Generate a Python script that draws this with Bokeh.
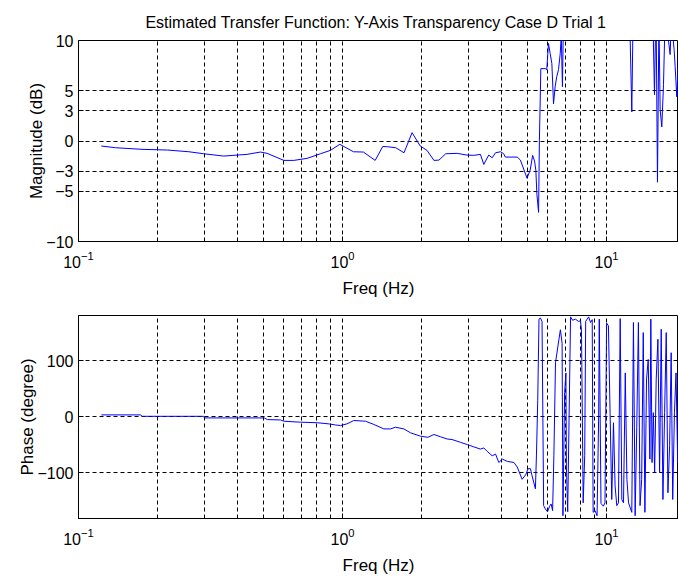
from bokeh.plotting import figure
from bokeh.layouts import column
from bokeh.models import Range1d, FixedTicker
from bokeh.embed import file_html
from bokeh.resources import INLINE

# ---------------- data ----------------
TITLE = "Estimated Transfer Function:  Y-Axis Transparency Case D Trial 1"

mag_freq = [0.122, 0.138, 0.174, 0.217, 0.262, 0.298, 0.355, 0.399, 0.435, 0.489,
            0.518, 0.600, 0.654, 0.734, 0.825, 0.90, 0.977, 1.10, 1.20, 1.33,
            1.42, 1.48, 1.59, 1.71, 1.835, 1.97, 2.09, 2.22, 2.32, 2.46,
            2.72, 2.96, 3.14, 3.33, 3.43, 3.58, 3.69, 3.80, 3.97, 4.08,
            4.14, 4.59, 4.72, 5.0, 5.14, 5.25, 5.34, 5.40, 5.45, 5.53,
            5.57, 5.64, 5.86, 5.94, 6.03, 6.12, 6.21, 6.30, 6.39, 6.48,
            6.58, 6.68, 6.74, 6.81, 6.87, 7.31, 7.97, 8.70, 9.49, 10.35,
            11.30, 12.2, 12.47, 12.65, 13.45, 14.42, 15.0, 15.2, 15.4, 15.6,
            15.8, 15.97, 16.2, 16.44, 16.7, 17.0, 17.42, 17.6, 18.04, 18.2,
            18.46, 18.74, 19.0]
mag_db = [-0.5, -0.67, -0.83, -0.9, -1.07, -1.27, -1.5, -1.4, -1.33, -1.1,
          -1.23, -1.93, -1.93, -1.73, -1.27, -0.93, -0.33, -1.07, -1.1, -1.93,
          -0.55, -0.57, -0.67, -1.17, 0.83, -0.5, -0.93, -1.93, -1.9, -1.27,
          -1.23, -1.4, -1.43, -1.33, -2.33, -1.4, -1.67, -1.17, -1.07, -1.27,
          -1.6, -1.6, -1.9, -3.7, -2.9, -1.43, -2.0, -2.9, -5.3, -7.1,
          0.07, 7.2, 7.2, 7.1, 9.7, 8.7, 7.7, 3.7, 5.4, 6.4,
          7.1, 8.7, 10.5, 5.4, 12.0, 14.0, 16.0, 13.0, 18.0, 15.0,
          20.0, 14.0, 2.9, 15.0, 18.0, 13.0, 12.0, 4.6, 14.0, -4.1,
          12.0, 3.1, 1.4, 5.6, 13.0, 11.0, 8.6, 12.0, 9.1, 7.4,
          4.4, 8.4, 10.0]

ph_freq = [0.122, 0.172, 0.174, 0.298, 0.300, 0.505, 0.520, 0.582, 0.600, 0.693,
           0.802, 0.887, 0.941, 0.983, 1.04, 1.104, 1.222, 1.314, 1.434, 1.52,
           1.587, 1.708, 1.81, 1.974, 2.105, 2.22, 2.35, 2.49, 2.60, 2.80,
           2.97, 3.14, 3.33, 3.43, 3.53, 3.69, 3.80, 3.91, 4.03, 4.21,
           4.46, 4.59, 4.79, 4.94, 5.05, 5.15, 5.22, 5.38, 5.43, 5.49,
           5.55, 5.62, 5.70, 5.78, 5.87, 5.98, 6.09, 6.17, 6.25, 6.32,
           6.41, 6.60, 6.69, 6.79, 6.84, 6.94, 7.02, 7.05, 7.13, 7.31,
           7.44, 7.63, 7.83, 7.97, 8.04, 8.16, 8.27, 8.34, 8.56, 8.70,
           8.83, 8.90, 9.05, 9.21, 9.34, 9.39, 9.53, 9.73, 9.87, 10.01,
           10.17, 10.32, 10.47, 10.63, 10.78, 10.94, 11.10, 11.27, 11.43, 11.60,
           11.78, 11.95, 12.12, 12.47, 12.65, 12.84, 13.02, 13.21, 13.40, 13.59,
           13.78, 13.98, 14.18, 14.39, 14.60, 14.72, 14.88, 15.05, 15.22, 15.43,
           15.66, 15.89, 16.12, 16.36, 16.60, 16.84, 17.09, 17.34, 17.58, 17.82,
           18.09, 18.34, 18.61, 18.8]
ph_deg = [3, 3, 0.5, 0.5, -2.4, -2.4, -5.4, -6, -8.3, -10,
          -11, -13, -15, -16, -13, -7, -8.3, -14, -22, -22,
          -19, -22, -29, -35, -37, -32, -36, -40, -41, -46,
          -50, -54, -58, -56, -62, -70, -67, -82, -76, -80,
          -82, -90, -112, -104, -93, -93, -105, -129, -67, 29,
          174, 176, 170, -159, -165, -170, -160, -156, -168, -70,
          96, 137, 155, 131, -177, 43, 78, -90, -170, 178,
          172, 174, 170, 171, 155, -154, -70, 170, 178, 168,
          173, -171, -168, -177, 0, 174, -155, -160, -154, 167,
          162, 5, -148, -11, -124, -159, -154, 175, -148, -154,
          78, -112, -154, -171, 168, -177, -20, 168, -159, -112,
          150, -171, 67, 102, -76, 174, -82, 7, -100, 67,
          138, -100, 156, -148, 7, 150, -136, -52, 114, -148,
          7, 78, -82, -30]

x_major = [0.1, 1, 10]
x_minor = [0.2, 0.3, 0.4, 0.5, 0.6, 0.7, 0.8, 0.9, 2, 3, 4, 5, 6, 7, 8, 9]
mag_ticks = [-10, -5, -3, 0, 3, 5, 10]
ph_ticks = [-100, 0, 100]

FONT = "Liberation Sans"
FS = "16px"
LFS = "17px"
LINE = "#0000ff"


def style(p, yticks, ylabel):
    xt = FixedTicker(ticks=x_major, minor_ticks=x_minor)
    p.xaxis.ticker = xt
    p.xgrid.ticker = xt
    p.yaxis.ticker = FixedTicker(ticks=yticks, minor_ticks=[])
    p.ygrid.ticker = FixedTicker(ticks=yticks, minor_ticks=[])
    for g in (p.xgrid, p.ygrid):
        g.grid_line_color = "black"
        g.grid_line_dash = "4 3"
        g.grid_line_width = 1
        g.grid_line_alpha = 1.0
    p.xgrid.minor_grid_line_color = "black"
    p.xgrid.minor_grid_line_dash = "4 3"
    p.xgrid.minor_grid_line_alpha = 1.0
    for ax in (p.xaxis, p.yaxis):
        ax.axis_line_color = "black"
        ax.major_tick_line_color = "black"
        ax.minor_tick_line_color = "black"
        ax.major_tick_in = 5
        ax.major_tick_out = 0
        ax.minor_tick_in = 3
        ax.minor_tick_out = 0
        ax.major_label_text_font = FONT
        ax.major_label_text_font_size = FS
        ax.major_label_text_color = "black"
        ax.axis_label_text_font = FONT
        ax.axis_label_text_font_size = LFS
        ax.axis_label_text_font_style = "normal"
        ax.axis_label_text_color = "black"
    p.yaxis.major_label_standoff = 5
    p.xaxis.major_label_standoff = 9
    p.xaxis.axis_label = "Freq (Hz)"
    p.yaxis.axis_label = ylabel
    p.xaxis.axis_label_standoff = 8
    p.yaxis.axis_label_standoff = -3
    p.outline_line_color = "black"
    p.outline_line_alpha = 1.0
    p.outline_line_width = 1
    p.background_fill_color = "white"
    p.border_fill_color = "white"


p1 = figure(width=678, height=300, x_axis_type="log",
            x_range=Range1d(0.1, 18.74), y_range=Range1d(-10, 10),
            output_backend="svg", toolbar_location=None,
            min_border_left=78, min_border_right=0,
            min_border_top=40, min_border_bottom=59)
p1.title.text = TITLE
p1.title.align = "center"
p1.title.text_font = FONT
p1.title.text_font_size = FS
p1.title.text_font_style = "normal"
p1.title.text_color = "black"
p1.title.standoff = 20
style(p1, mag_ticks, "Magnitude (dB)")
p1.line(mag_freq, mag_db, line_color=LINE, line_width=1)

p2 = figure(width=678, height=278, x_axis_type="log",
            x_range=Range1d(0.1, 18.74), y_range=Range1d(-182, 180.5),
            output_backend="svg", toolbar_location=None,
            min_border_left=78, min_border_right=0,
            min_border_top=15, min_border_bottom=60)
style(p2, ph_ticks, "Phase (degree)")
p2.line(ph_freq, ph_deg, line_color=LINE, line_width=1)

layout = column(p1, p2)
open("out.html", "w").write(file_html(layout, INLINE))
